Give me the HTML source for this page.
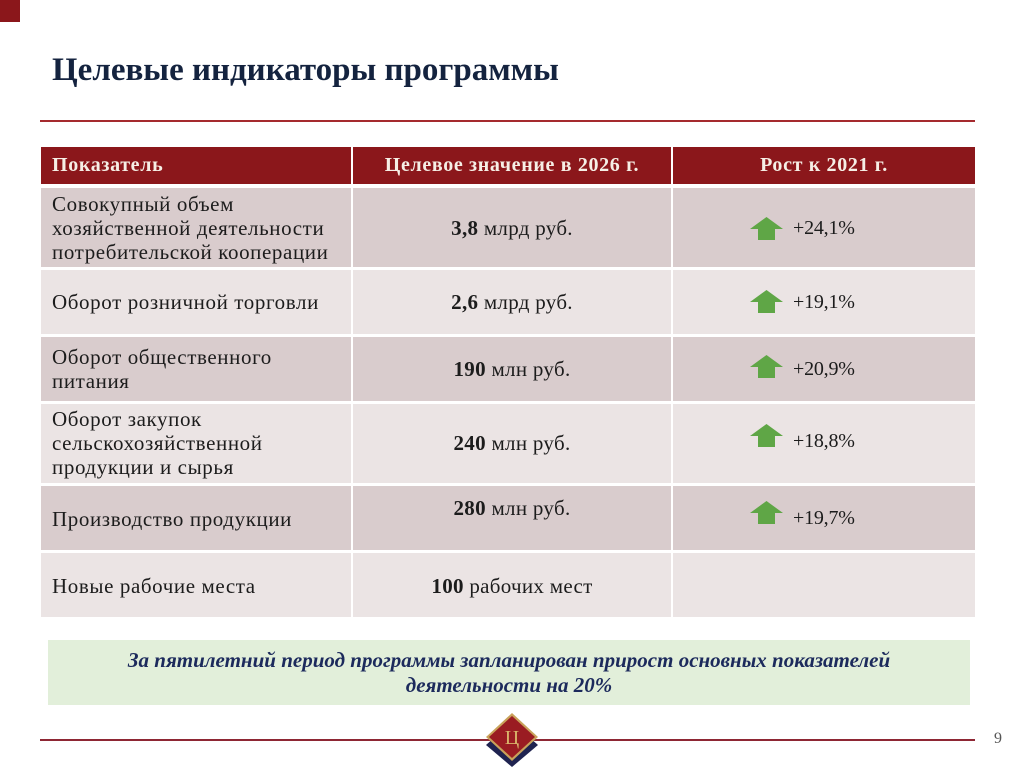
<!DOCTYPE html>
<html><head><meta charset="utf-8">
<style>
html,body{margin:0;padding:0;background:#fff;}
body{width:1024px;height:767px;position:relative;overflow:hidden;font-family:"Liberation Serif","Noto Serif CJK SC",serif;color:#1c1c1c;}
.abs{position:absolute;}
.hdr{background:#8b171b;}
.dk{background:#d9cccd;}
.lt{background:#ebe4e4;}
.h{position:absolute;color:#f6efe6;font-weight:bold;font-size:20px;letter-spacing:0.65px;line-height:24px;white-space:nowrap;}
.t{position:absolute;font-size:21px;letter-spacing:0.6px;line-height:24px;white-space:nowrap;}
.c2{position:absolute;left:353px;width:318px;text-align:center;font-size:21px;letter-spacing:0.3px;line-height:24px;white-space:nowrap;}
.c3{position:absolute;left:793px;font-size:20px;letter-spacing:-0.2px;line-height:24px;white-space:nowrap;}
.ar{position:absolute;left:750px;width:33px;height:23px;}
</style></head><body>
<div class="abs" style="left:0;top:0;width:20px;height:22px;background:#8b171b;"></div>
<div class="abs" style="left:52px;top:50px;font-size:33px;font-weight:bold;color:#14233f;line-height:40px;white-space:nowrap;">Целевые индикаторы программы</div>
<div class="abs" style="left:40px;top:120px;width:935px;height:2px;background:#a52a2e;"></div>

<!-- header -->
<div class="abs hdr" style="left:41px;top:147px;width:310px;height:37px;"></div>
<div class="abs hdr" style="left:353px;top:147px;width:318px;height:37px;"></div>
<div class="abs hdr" style="left:673px;top:147px;width:302px;height:37px;"></div>
<div class="h" style="left:52px;top:153px;">Показатель</div>
<div class="h" style="left:353px;width:318px;text-align:center;top:153px;">Целевое значение в 2026 г.</div>
<div class="h" style="left:673px;width:302px;text-align:center;top:153px;">Рост к 2021 г.</div>

<!-- rows backgrounds -->
<div class="abs dk" style="left:41px;top:188px;width:310px;height:79px;"></div>
<div class="abs dk" style="left:353px;top:188px;width:318px;height:79px;"></div>
<div class="abs dk" style="left:673px;top:188px;width:302px;height:79px;"></div>

<div class="abs lt" style="left:41px;top:270px;width:310px;height:64px;"></div>
<div class="abs lt" style="left:353px;top:270px;width:318px;height:64px;"></div>
<div class="abs lt" style="left:673px;top:270px;width:302px;height:64px;"></div>

<div class="abs dk" style="left:41px;top:337px;width:310px;height:64px;"></div>
<div class="abs dk" style="left:353px;top:337px;width:318px;height:64px;"></div>
<div class="abs dk" style="left:673px;top:337px;width:302px;height:64px;"></div>

<div class="abs lt" style="left:41px;top:404px;width:310px;height:79px;"></div>
<div class="abs lt" style="left:353px;top:404px;width:318px;height:79px;"></div>
<div class="abs lt" style="left:673px;top:404px;width:302px;height:79px;"></div>

<div class="abs dk" style="left:41px;top:486px;width:310px;height:64px;"></div>
<div class="abs dk" style="left:353px;top:486px;width:318px;height:64px;"></div>
<div class="abs dk" style="left:673px;top:486px;width:302px;height:64px;"></div>

<div class="abs lt" style="left:41px;top:553px;width:310px;height:64px;"></div>
<div class="abs lt" style="left:353px;top:553px;width:318px;height:64px;"></div>
<div class="abs lt" style="left:673px;top:553px;width:302px;height:64px;"></div>

<!-- col1 text -->
<div class="t" style="left:52px;top:192px;">Совокупный объем<br>хозяйственной деятельности<br>потребительской кооперации</div>
<div class="t" style="left:52px;top:290px;">Оборот розничной торговли</div>
<div class="t" style="left:52px;top:345px;">Оборот общественного<br>питания</div>
<div class="t" style="left:52px;top:407px;">Оборот закупок<br>сельскохозяйственной<br>продукции и сырья</div>
<div class="t" style="left:52px;top:507px;">Производство продукции</div>
<div class="t" style="left:52px;top:574px;">Новые рабочие места</div>

<!-- col2 text -->
<div class="c2" style="top:216px;"><b>3,8</b> млрд руб.</div>
<div class="c2" style="top:290px;"><b>2,6</b> млрд руб.</div>
<div class="c2" style="top:357px;"><b>190</b> млн руб.</div>
<div class="c2" style="top:431px;"><b>240</b> млн руб.</div>
<div class="c2" style="top:496px;"><b>280</b> млн руб.</div>
<div class="c2" style="top:574px;"><b>100</b> рабочих мест</div>

<!-- col3 -->
<svg class="ar" style="top:217px;" viewBox="0 0 33 23"><polygon points="16.5,0 33,12 25,12 25,23 8,23 8,12 0,12" fill="#5fa646"/></svg>
<div class="c3" style="top:216px;">+24,1%</div>
<svg class="ar" style="top:290px;" viewBox="0 0 33 23"><polygon points="16.5,0 33,12 25,12 25,23 8,23 8,12 0,12" fill="#5fa646"/></svg>
<div class="c3" style="top:290px;">+19,1%</div>
<svg class="ar" style="top:355px;" viewBox="0 0 33 23"><polygon points="16.5,0 33,12 25,12 25,23 8,23 8,12 0,12" fill="#5fa646"/></svg>
<div class="c3" style="top:357px;">+20,9%</div>
<svg class="ar" style="top:424px;" viewBox="0 0 33 23"><polygon points="16.5,0 33,12 25,12 25,23 8,23 8,12 0,12" fill="#5fa646"/></svg>
<div class="c3" style="top:429px;">+18,8%</div>
<svg class="ar" style="top:501px;" viewBox="0 0 33 23"><polygon points="16.5,0 33,12 25,12 25,23 8,23 8,12 0,12" fill="#5fa646"/></svg>
<div class="c3" style="top:506px;">+19,7%</div>

<!-- green note -->
<div class="abs" style="left:48px;top:640px;width:922px;height:65px;background:#e2efda;"></div>
<div class="abs" style="left:48px;top:648px;width:922px;text-align:center;font-size:21px;font-style:italic;font-weight:bold;color:#1c2a5c;line-height:25px;white-space:nowrap;">За пятилетний период программы запланирован прирост основных показателей<br>деятельности на 20%</div>

<!-- footer -->
<div class="abs" style="left:40px;top:739px;width:935px;height:2px;background:#8e2734;"></div>
<svg class="abs" style="left:482px;top:710px;" width="60" height="57" viewBox="0 0 60 57">
  <polygon points="30,12 56,35 30,57 4,35" fill="#1f2350"/>
  <polygon points="30,3 56,27 30,51 4,27" fill="#c9a25a"/>
  <polygon points="30,6 53,27 30,48 7,27" fill="#9a1c22"/>
  <text x="30" y="34" text-anchor="middle" font-family="Liberation Serif, serif" font-size="20" fill="#d9b46a">Ц</text>
</svg>
<div class="abs" style="left:994px;top:729px;font-size:16px;color:#555;line-height:20px;">9</div>
</body></html>
